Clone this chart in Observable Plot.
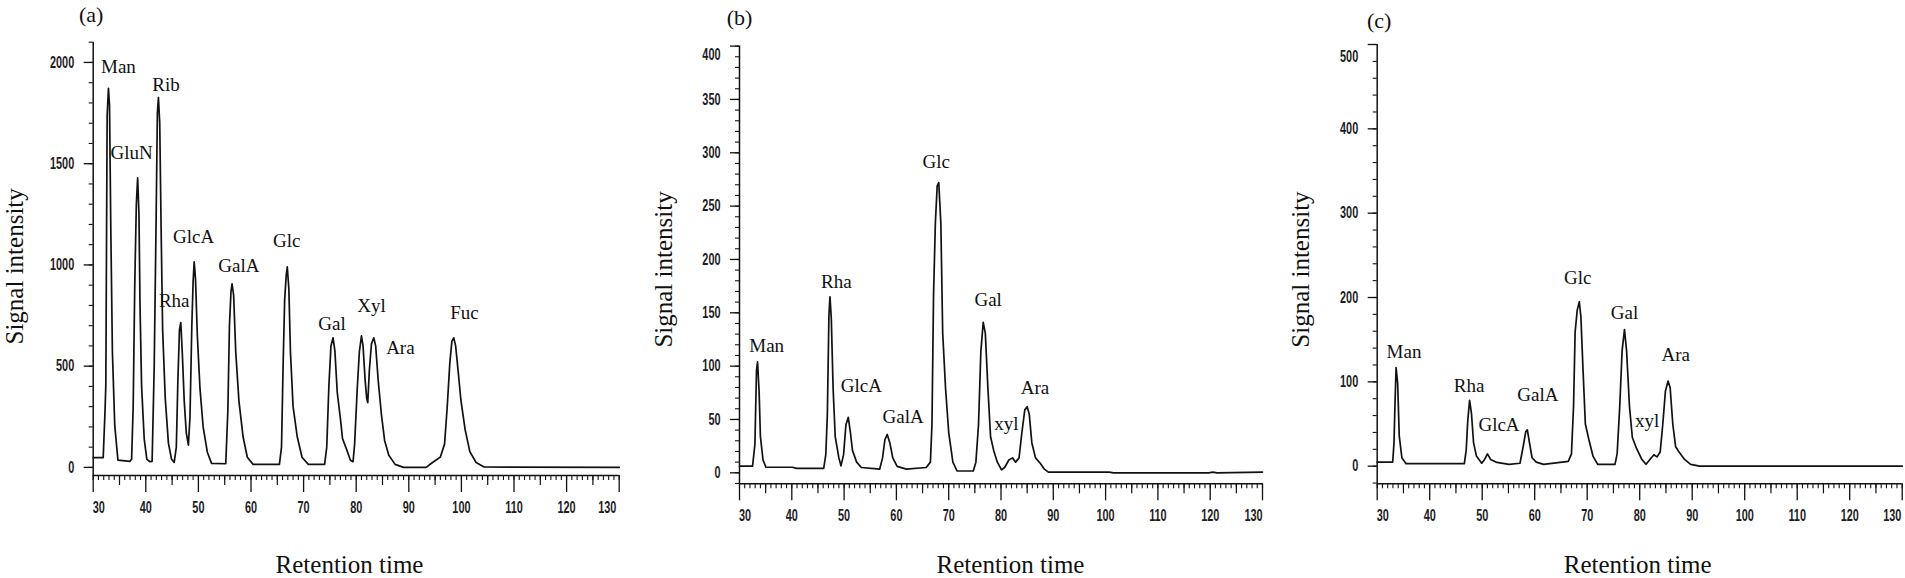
<!DOCTYPE html>
<html><head><meta charset="utf-8">
<script src="https://cdn.jsdelivr.net/npm/d3@7"></script>
<script src="https://cdn.jsdelivr.net/npm/@observablehq/plot@0.6"></script>
<style>
html,body{margin:0;padding:0;background:#fff;overflow:hidden;}
#wrap{position:relative;width:1905px;height:578px;}
.panel{position:absolute;top:0;}
</style></head><body><div id="wrap"></div>
<script>
// ---------- Panel (a) : standard mixture ----------
const timeA = [30,31.9,32.25,32.4,32.65,32.9,33.1,33.35,33.65,34.1,34.7,37.0,
  37.3,37.6,37.9,38.2,38.45,38.7,38.9,39.2,39.7,40.2,40.8,
  41.2,41.6,41.95,42.2,42.4,42.65,42.9,43.2,43.7,44.3,44.9,45.4,
  45.8,46.1,46.4,46.65,46.95,47.3,47.7,48.1,
  48.4,48.75,49.0,49.2,49.45,49.8,50.3,50.9,51.7,52.5,55.2,
  55.6,55.9,56.2,56.4,56.7,57.1,57.7,58.5,59.3,60.4,65.4,
  65.8,66.1,66.4,66.7,66.9,67.2,67.5,68.0,68.8,69.7,70.9,74.0,
  74.4,74.8,75.2,75.6,75.95,76.4,77.0,77.4,78.2,78.9,79.4,
  79.7,80.2,80.6,81.0,81.3,81.7,82.0,82.2,82.5,82.9,83.35,83.7,84.2,84.8,85.4,86.2,87.4,89.0,93.3,
  94.5,96.0,96.8,97.3,97.8,98.2,98.55,98.9,99.3,99.9,100.7,101.6,102.8,104.3,130];
const sigA = [48,48,280,406,1736,1872,1790,1171,570,206,36,30,
  40,300,900,1300,1430,1250,800,400,140,40,28,
  30,500,1200,1750,1827,1700,1200,680,340,120,40,25,
  100,430,680,715,560,330,170,110,
  250,700,920,1015,930,650,390,200,75,20,18,
  280,700,870,907,850,570,330,150,50,15,15,
  100,500,830,950,990,880,570,300,150,50,15,15,
  100,400,600,640,575,370,240,142,87,35,28,
  115,390,570,650,600,430,340,320,480,610,640,600,424,260,133,60,15,0,0,
  24,51,115,297,516,625,640,600,497,333,188,78,24,2,0];
const labelNamesA = ["Man","GluN","Rib","GlcA","Rha","GalA","Glc","Gal","Xyl","Ara","Fuc"];
const labelTimeA  = [34.8,37.3,43.85,49.1,45.4,57.7,66.8,75.4,82.9,88.4,100.6];
const labelSigA   = [1978,1555,1887,1138,821,996,1120,707,798,588,765];
const yMajorA = [0,500,1000,1500,2000];
const yMinorA = d3.range(0,2101,100);

// ---------- Panel (b) ----------
const timeB = [30,32.5,32.95,33.25,33.45,33.75,34.0,34.5,35.05,40.1,40.9,46.1,46.5,46.8,47.1,47.3,47.55,47.9,48.3,49.0,49.4,
  49.9,50.35,50.8,51.2,51.6,52.4,53.3,56.8,57.35,57.8,58.25,58.75,59.3,60.15,61.9,65.7,66.5,66.8,67.1,67.45,67.8,68.1,68.5,
  68.85,69.4,70.0,70.8,71.6,74.7,75.2,75.7,76.15,76.6,77.0,77.5,78.0,78.6,79.3,80.1,80.7,81.5,82.2,82.8,83.45,84.0,84.55,
  85.0,85.4,85.9,86.6,87.5,88.3,89.05,100.7,101.5,119.7,120.5,121.3,130];
const sigB = [6.2,6.2,27,96,104,76,34,12,5.2,5.2,4.1,4.1,17,55,148,165,145,79,34,14,6.5,
  17,45,52,38,21,10,5,3.4,14,31,36,28,14,6,3.4,5,10,45,166,234,269,272,234,
  131,79,38,10,1.7,1.7,10,45,114,141,131,79,34,21,10,2.8,5,12,14,10,14,38,59,
  62,55,28,14,9,3.4,0.7,0.7,0,0,0.7,0,0.7];
const labelNamesB = ["Man","Rha","GlcA","GalA","Glc","Gal","xyl","Ara"];
const labelTimeB  = [35.2,48.5,53.3,61.3,67.6,77.55,81.05,86.5];
const labelSigB   = [119,179,81,52,291,162,45.5,80];
const yMajorB = [0,50,100,150,200,250,300,350,400];
const yMinorB = d3.range(-10,401,10);

// ---------- Panel (c) ----------
const timeC = [30,32.95,33.2,33.4,33.6,33.9,34.2,34.7,35.5,46.6,46.95,47.25,47.6,47.95,48.35,48.9,49.9,50.45,51.0,51.6,52.8,
  55.1,57.2,57.8,58.3,58.6,59.0,59.5,60.3,61.7,66.4,67.0,67.4,67.7,68.1,68.5,68.8,69.2,69.65,70.3,71.1,72.0,75.3,75.7,76.2,
  76.65,77.1,77.5,78.05,78.6,79.4,80.4,81.2,81.95,82.7,83.3,83.9,84.4,84.9,85.4,85.8,86.3,86.85,87.5,88.55,89.7,91.4,130];
const sigC = [4.8,4.8,27.6,76,117,98,36,10,3,3,19,54,78,63,28,12,3.5,8,14.5,8,4.4,
  2.2,3.5,23,41,43,28,10,4.8,2.2,5.7,14.5,71,159,185,195,177,115,50,32,12,2.2,2.2,14.5,71,
  137,162,137,71,34,21,8,2.2,8,13.6,11,16.7,50,89,101,93,50,23,16.7,8,2.2,0,0];
const labelNamesC = ["Man","Rha","GlcA","GalA","Glc","Gal","xyl","Ara"];
const labelTimeC  = [35.1,47.5,53.2,60.6,68.2,77.1,81.4,86.85];
const labelSigC   = [136,95.6,48.7,84.6,223,182,54,132];
const yMajorC = [0,100,200,300,400,500];
const yMinorC = d3.range(-20,501,20);

// ---------- shared axis ticks / texts ----------
const xMajor = d3.range(30,131,10);
const xMedium = d3.range(35,131,10);
const xMinor = d3.range(30,131,1);
const panelLetters = ["(a)","(b)","(c)"];
const xTitle = "Retention time";
const yTitle = "Signal intensity";

const SERIF = "'Liberation Serif','Times New Roman',Times,serif";
const NARROW = "'Liberation Sans Narrow','Liberation Sans',Arial,sans-serif";
const plain = d => String(d);

function panel(cfg){
  const pts = cfg.t.map((t,i)=>({t, v: cfg.v[i]}));
  const labs = cfg.names.map((n,i)=>({n, t: cfg.lt[i], v: cfg.lv[i]}));
  const y0 = cfg.ydomain[0];
  const yMaj = cfg.yMajor;
  const yTop = yMaj[yMaj.length-1];
  const tickFont = {fontFamily: NARROW, fontWeight: "bold", fontSize: 16, fill: "#1c1c24", tickFormat: plain};
  const yInner = cfg.topShift ? yMaj.slice(0,-1) : yMaj;
  const marks = [
    Plot.line(pts, {x:"t", y:"v", stroke:"#111", strokeWidth:1.7}),
    // axis lines
    Plot.ruleX([xMajor[0]], {stroke:"#111", strokeWidth:1.5}),
    Plot.ruleY([y0], {stroke:"#111", strokeWidth:1.5}),
    // x ticks
    Plot.axisX(xMajor, {anchor:"bottom", tickSize:17, fill:"none", label:null, strokeWidth:1.3}),
    Plot.axisX(xMedium, {anchor:"bottom", tickSize:10, fill:"none", label:null, strokeWidth:1.2}),
    Plot.axisX(xMinor, {anchor:"bottom", tickSize:5, fill:"none", label:null, strokeWidth:1.1}),
    Plot.axisX(xMajor.slice(1,-1), {anchor:"bottom", tickSize:17, tickPadding:9, stroke:"none", label:null, ...tickFont}),
    Plot.axisX([xMajor[0]], {anchor:"bottom", tickSize:17, tickPadding:9, stroke:"none", label:null, dx:5.5, ...tickFont}),
    Plot.axisX([xMajor[xMajor.length-1]], {anchor:"bottom", tickSize:17, tickPadding:9, stroke:"none", label:null, dx:cfg.lastDx, ...tickFont}),
    // y ticks
    Plot.axisY(yMaj, {anchor:"left", tickSize:9, fill:"none", label:null, strokeWidth:1.3}),
    Plot.axisY(cfg.yMinor.filter(d=>d>=y0 && d<=cfg.ydomain[1]), {anchor:"left", tickSize:4, fill:"none", label:null, strokeWidth:1.1}),
    Plot.axisY(yInner, {anchor:"left", tickSize:9, tickPadding:10, stroke:"none", label:null, ...tickFont}),
    cfg.topShift ? Plot.axisY([yTop], {anchor:"left", tickSize:9, tickPadding:10, stroke:"none", label:null, dy:cfg.topShift, ...tickFont}) : null,
    // peak labels
    Plot.text(labs, {x:"t", y:"v", text:"n", fontFamily:SERIF, fontSize:19, fill:"#111", textAnchor:"middle", lineAnchor:"middle"}),
    // titles
    Plot.text([cfg.letter], {text:d=>d, frameAnchor:"top-left", dx:cfg.letterDx, dy:cfg.letterDy, fontFamily:SERIF, fontSize:22, fill:"#111", textAnchor:"middle", lineAnchor:"middle"}),
    Plot.text([xTitle], {text:d=>d, frameAnchor:"bottom", dx:cfg.xtDx, dy:cfg.xtDy, fontFamily:SERIF, fontSize:25, fill:"#111", textAnchor:"middle", lineAnchor:"middle"}),
    Plot.text([yTitle], {text:d=>d, frameAnchor:"left", dx:cfg.ytDx, dy:cfg.ytDy, rotate:-90, fontFamily:SERIF, fontSize:25, fill:"#111", textAnchor:"middle", lineAnchor:"middle"})
  ].filter(Boolean);
  const svg = Plot.plot({
    width: 635, height: 578,
    marginLeft: cfg.ml, marginRight: cfg.mr, marginTop: cfg.mt, marginBottom: cfg.mb,
    x: {domain: [30,130]},
    y: {domain: cfg.ydomain},
    style: {background:"transparent", color:"#111", overflow:"visible"},
    marks
  });
  // condense tick label glyphs horizontally (keep their positions)
  svg.querySelectorAll('g[aria-label$="tick label"] text').forEach(t=>{
    const tr = t.getAttribute('transform');
    if (tr) {
      t.setAttribute('transform', tr + ' scale(0.68,1)');
    } else {
      const xa = t.getAttribute('x');
      const xn = xa != null && /^-?[\d.]+$/.test(xa) ? +xa : 0;
      if (xa != null) t.removeAttribute('x');
      t.setAttribute('transform', `translate(${xn},0) scale(0.68,1)`);
    }
  });
  const div = document.createElement('div');
  div.className = 'panel';
  div.style.left = cfg.left + 'px';
  div.appendChild(svg);
  document.getElementById('wrap').appendChild(div);
}

panel({left:0, ml:92.7, mr:16.3, mt:41.7, mb:103, ydomain:[-40,2100],
  t:timeA, v:sigA, names:labelNamesA, lt:labelTimeA, lv:labelSigA, yMajor:yMajorA, yMinor:yMinorA,
  topShift:0, lastDx:-12, letter:panelLetters[0], letterDx:-2, letterDy:-27.7,
  xtDx:-6.7, xtDy:89, ytDx:-78, ytDy:7.5});
panel({left:635, ml:104, mr:8, mt:45.6, mb:94.7, ydomain:[-10.3,400],
  t:timeB, v:sigB, names:labelNamesB, lt:labelTimeB, lv:labelSigB, yMajor:yMajorB, yMinor:yMinorB,
  topShift:9, lastDx:-9, letter:panelLetters[1], letterDx:0, letterDy:-28.5,
  xtDx:9.5, xtDy:81, ytDx:-75.7, ytDy:4.5});
panel({left:1270, ml:106.7, mr:3.3, mt:44, mb:94.7, ydomain:[-20.9,500],
  t:timeC, v:sigC, names:labelNamesC, lt:labelTimeC, lv:labelSigC, yMajor:yMajorC, yMinor:yMinorC,
  topShift:12, lastDx:-10, letter:panelLetters[2], letterDx:2, letterDy:-24,
  xtDx:-2, xtDy:81, ytDx:-75.9, ytDy:5.4});
</script>
</body></html>
